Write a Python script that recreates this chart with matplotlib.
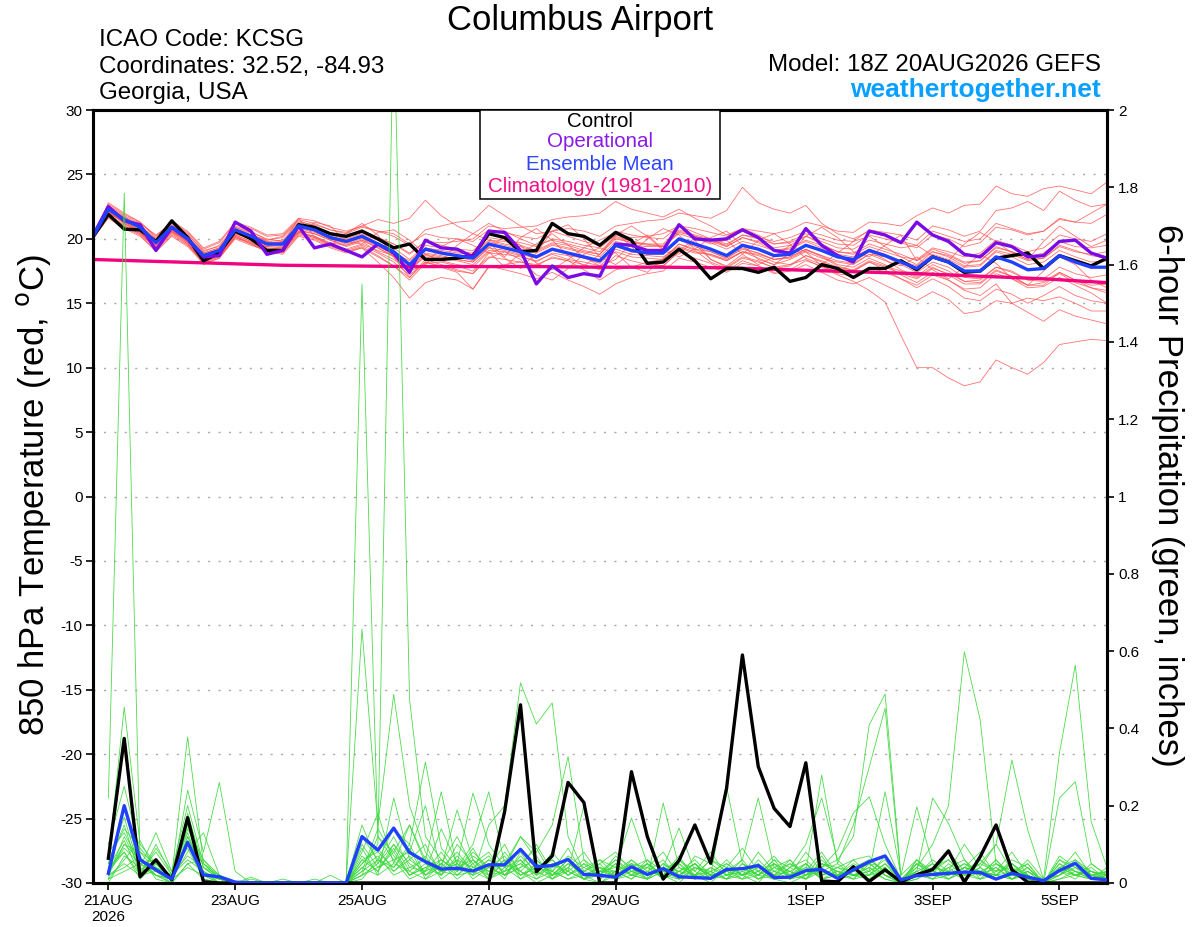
import numpy as np
import pandas as pd
import matplotlib
matplotlib.use('Agg')
import matplotlib.pyplot as plt
from matplotlib.patches import Rectangle

plt.rcParams['font.family'] = ['Liberation Sans', 'DejaVu Sans']
plt.rcParams['axes.unicode_minus'] = False

# ---------------- time axis ----------------
t_times = pd.date_range('2026-08-20 18:00', periods=65, freq='6h')   # temperature (0..384 h)
p_times = t_times[1:]                                                # 6-h precipitation (6..384 h)
clim_times = t_times[::4]

tick_dates = pd.to_datetime(['2026-08-21', '2026-08-23', '2026-08-25', '2026-08-27',
                             '2026-08-29', '2026-09-01', '2026-09-03', '2026-09-05'])
tick_labels = ['21AUG\n2026', '23AUG', '25AUG', '27AUG', '29AUG', '1SEP', '3SEP', '5SEP']

# ---------------- 850 hPa temperature (C) ----------------
control_t = [20.1, 21.9, 20.75, 20.7, 19.8, 21.4, 20.1, 18.3, 18.9, 20.6, 20.0, 19.1, 19.1,
             21.1, 20.9, 20.4, 20.2, 20.6, 20.0, 19.3, 19.6, 18.4, 18.4, 18.5, 18.7, 20.4,
             20.1, 19.0, 19.1, 21.2, 20.4, 20.2, 19.5, 20.5, 19.9, 18.1, 18.2, 19.2, 18.3,
             16.9, 17.7, 17.7, 17.4, 17.8, 16.7, 17.0, 18.0, 17.7, 17.0, 17.7, 17.7, 18.3,
             17.6, 18.6, 18.2, 17.4, 17.5, 18.5, 18.7, 18.9, 17.7, 18.7, 18.3, 17.9, 18.5]
oper_t = [20.2, 22.5, 21.4, 21.1, 19.1, 20.9, 20.0, 18.6, 18.7, 21.3, 20.6, 18.8, 19.1,
          21.0, 19.3, 19.6, 19.1, 18.6, 19.6, 18.9, 17.4, 19.9, 19.3, 19.2, 18.6, 20.6,
          20.5, 19.1, 16.5, 17.9, 17.0, 17.3, 17.1, 19.6, 19.5, 19.1, 19.1, 21.1, 20.0,
          19.9, 20.0, 20.7, 20.1, 19.1, 18.9, 20.8, 19.5, 18.7, 18.2, 20.6, 20.3, 19.7,
          21.3, 20.3, 19.8, 18.8, 18.6, 19.7, 19.4, 18.6, 18.7, 19.8, 19.9, 18.9, 18.5]
mean_t = [20.1, 22.3, 21.5, 20.9, 19.7, 20.9, 20.0, 18.7, 19.1, 20.7, 20.2, 19.6, 19.6,
          21.0, 20.7, 20.1, 19.8, 20.2, 19.6, 19.0, 18.0, 19.2, 18.9, 18.7, 18.5, 19.6,
          19.3, 19.0, 18.6, 19.2, 18.9, 18.6, 18.3, 19.5, 19.1, 18.9, 18.9, 20.0, 19.6,
          19.2, 18.7, 19.5, 19.2, 18.7, 18.8, 19.5, 19.1, 18.6, 18.4, 19.1, 18.7, 18.2,
          17.7, 18.6, 18.2, 17.5, 17.5, 18.6, 18.2, 17.6, 17.7, 18.7, 18.2, 17.8, 17.8]
clim_t = [18.4, 18.25, 18.1, 17.95, 17.9, 17.85, 17.85, 17.85, 17.8, 17.8, 17.75, 17.6,
          17.45, 17.3, 17.1, 16.9, 16.6]

temp_members = [
    [20.2, 22.6, 21.8, 21.2, 20.3, 21.2, 20.4, 19.0, 19.5, 21.0, 20.6, 19.9, 20.2,
     21.4, 21.0, 20.4, 20.2, 20.7, 20.1, 19.6, 18.9, 19.8, 19.5, 19.2, 19.1, 20.1,
     19.9, 19.7, 19.4, 20.0, 19.8, 19.5, 19.3, 20.3, 20.1, 20.2, 20.4, 21.0, 20.8,
     20.5, 20.2, 20.8, 20.6, 20.4, 20.7, 21.3, 21.0, 20.6, 20.5, 21.3, 21.2, 21.0,
     21.8, 22.4, 22.0, 22.6, 22.7, 24.1, 23.5, 23.3, 23.9, 24.1, 23.8, 23.5, 24.4],
    [20.0, 22.0, 21.3, 20.6, 19.5, 20.6, 19.8, 18.6, 19.0, 20.5, 20.3, 19.9, 20.1,
     21.3, 21.1, 20.7, 20.5, 21.0, 20.6, 20.4, 19.6, 20.4, 20.1, 20.0, 19.8, 20.7,
     20.5, 20.2, 20.0, 20.6, 20.8, 20.6, 20.2, 21.0, 21.2, 21.4, 21.5, 22.0, 21.8,
     21.6, 22.2, 24.0, 22.8, 22.3, 22.0, 22.6, 21.2, 20.4, 20.0, 20.6, 20.3, 19.8,
     19.5, 20.6, 20.2, 19.8, 20.0, 21.2, 20.8, 20.4, 20.6, 21.5, 21.3, 22.0, 22.7],
    [20.3, 22.4, 21.6, 21.0, 19.9, 20.7, 19.8, 18.5, 18.8, 20.4, 20.0, 19.3, 19.2,
     20.6, 20.4, 19.9, 19.4, 19.8, 19.0, 18.4, 17.6, 18.7, 18.5, 18.3, 18.0, 19.1,
     19.0, 18.7, 18.2, 18.9, 18.7, 18.5, 18.1, 19.2, 18.8, 18.7, 18.6, 19.4, 19.0,
     18.8, 18.4, 19.0, 18.7, 18.2, 18.0, 18.4, 17.8, 17.2, 16.7, 16.0, 15.1, 12.5,
     10.0, 10.0, 9.2, 8.6, 8.9, 10.6, 10.0, 9.5, 10.4, 11.8, 12.0, 12.2, 12.1],
    [19.9, 21.8, 21.0, 20.4, 19.2, 20.4, 19.6, 18.2, 18.6, 20.1, 19.7, 19.0, 18.9,
     20.3, 20.0, 19.4, 19.0, 19.4, 18.7, 17.9, 16.8, 18.1, 18.2, 17.9, 17.5, 18.6,
     18.4, 18.2, 17.9, 18.6, 18.3, 18.0, 17.6, 18.7, 18.3, 18.0, 17.9, 19.0, 18.5,
     18.1, 17.5, 18.3, 17.9, 17.3, 17.5, 18.0, 17.4, 16.8, 16.5, 17.0, 16.4, 15.8,
     15.2, 15.9, 15.3, 14.2, 14.4, 15.2, 15.0, 14.3, 13.6, 14.5, 14.0, 13.7, 13.4],
    [20.0, 22.1, 21.2, 20.5, 19.3, 20.5, 19.9, 18.4, 18.9, 20.3, 19.8, 19.4, 19.3,
     20.5, 20.2, 19.7, 19.5, 19.9, 19.3, 18.6, 17.0, 18.4, 18.0, 17.6, 17.3, 18.9,
     18.8, 18.6, 18.3, 18.8, 18.4, 18.2, 17.9, 19.0, 18.6, 18.5, 18.4, 19.6, 19.2,
     18.7, 18.3, 19.0, 18.8, 18.4, 18.6, 19.2, 18.7, 18.0, 17.8, 18.5, 18.0, 17.2,
     16.6, 17.4, 16.8, 16.0, 15.6, 16.5, 15.0, 15.4, 15.2, 15.5, 15.0, 14.4, 14.4],
    [20.2, 22.5, 21.4, 20.6, 19.4, 20.8, 19.7, 18.0, 18.5, 20.2, 19.6, 19.0, 19.0,
     20.6, 20.1, 19.5, 19.0, 19.3, 18.2, 17.0, 15.4, 16.6, 17.0, 16.8, 16.1, 17.8,
     18.0, 18.2, 18.0, 18.5, 18.3, 17.6, 16.8, 17.6, 17.8, 18.2, 18.4, 19.3, 18.9,
     18.8, 18.3, 19.0, 18.5, 18.0, 18.4, 19.0, 18.5, 18.2, 18.0, 18.8, 18.6, 18.0,
     17.4, 18.2, 17.8, 17.0, 16.9, 17.8, 17.5, 16.8, 16.7, 17.4, 16.8, 16.4, 16.5],
    [20.1, 22.8, 22.0, 21.3, 20.1, 21.4, 20.6, 19.3, 19.8, 21.3, 20.9, 20.3, 20.4,
     21.6, 21.4, 20.9, 20.6, 21.0, 21.5, 21.2, 21.6, 23.0, 21.8, 21.0, 20.4, 21.2,
     20.6, 20.0, 19.5, 19.9, 19.6, 19.3, 19.0, 20.2, 19.8, 19.6, 19.4, 20.4, 20.0,
     19.7, 19.2, 19.8, 19.5, 19.1, 19.3, 19.9, 19.5, 19.0, 18.9, 19.6, 19.2, 18.8,
     18.3, 19.0, 18.7, 18.1, 18.3, 19.4, 19.0, 18.6, 18.9, 19.8, 19.4, 19.3, 19.5],
    [20.0, 21.7, 20.9, 20.3, 19.0, 20.2, 19.4, 18.1, 18.5, 20.0, 19.5, 19.1, 19.0,
     20.4, 20.1, 19.6, 19.2, 19.6, 19.1, 18.7, 17.6, 18.6, 18.3, 18.0, 17.8, 19.0,
     17.8, 18.9, 19.6, 20.4, 19.5, 18.6, 17.9, 18.4, 19.6, 20.3, 19.2, 18.8, 19.9,
     18.4, 17.8, 18.6, 18.3, 17.7, 17.9, 18.7, 18.3, 17.8, 17.6, 18.3, 17.9, 17.5,
     17.0, 17.8, 17.2, 16.5, 16.5, 17.5, 17.1, 16.4, 16.6, 17.3, 16.6, 16.2, 16.0],
    [20.2, 22.2, 21.6, 21.0, 19.8, 21.0, 20.2, 18.9, 19.3, 20.9, 20.4, 19.8, 19.9,
     21.2, 20.9, 20.3, 20.0, 20.4, 19.9, 19.3, 18.4, 19.5, 19.3, 19.0, 18.9, 19.9,
     19.6, 19.4, 19.0, 19.6, 19.3, 19.0, 18.8, 20.0, 19.7, 19.6, 19.6, 20.7, 20.3,
     20.0, 19.6, 20.3, 20.1, 19.8, 20.1, 20.6, 20.3, 19.9, 19.8, 20.7, 20.5, 20.3,
     19.9, 21.0, 20.7, 20.2, 20.6, 22.2, 22.4, 22.9, 22.2, 23.7, 23.0, 22.5, 22.7],
    [20.0, 21.9, 21.1, 20.5, 19.4, 20.6, 19.7, 18.3, 18.7, 20.3, 19.8, 19.2, 19.1,
     20.5, 20.2, 19.6, 19.1, 19.5, 18.9, 18.2, 17.2, 18.2, 17.8, 17.4, 16.1, 17.9,
     17.6, 17.3, 16.9, 17.4, 16.8, 16.3, 15.7, 16.5, 17.0, 17.3, 17.5, 18.5, 18.2,
     17.8, 17.4, 18.1, 17.9, 17.4, 17.6, 18.3, 17.9, 17.3, 17.1, 17.8, 17.4, 16.9,
     16.4, 17.2, 16.8, 16.1, 16.2, 17.3, 16.9, 16.2, 16.3, 17.0, 16.4, 15.8, 15.0],
    [20.1, 22.4, 21.7, 21.1, 20.0, 21.1, 20.3, 19.1, 19.4, 20.9, 20.5, 20.0, 19.8,
     20.4, 21.3, 21.0, 19.8, 19.6, 20.5, 20.7, 19.9, 18.8, 18.3, 19.5, 20.4, 19.9,
     19.8, 19.5, 19.1, 19.7, 19.5, 19.1, 18.8, 20.1, 19.7, 19.5, 19.5, 20.6, 20.2,
     19.8, 19.4, 20.1, 19.8, 19.3, 19.5, 20.2, 19.8, 19.3, 19.2, 19.9, 19.6, 19.3,
     19.5, 18.7, 18.3, 19.6, 20.5, 19.8, 18.9, 18.4, 19.8, 21.0, 20.2, 19.4, 19.9],
    [20.3, 22.0, 21.3, 20.7, 19.6, 20.6, 19.9, 18.6, 19.0, 20.4, 20.0, 19.5, 19.4,
     20.8, 20.5, 20.0, 19.6, 20.0, 19.4, 18.8, 17.8, 18.9, 18.7, 18.4, 18.2, 19.3,
     20.2, 19.5, 18.1, 17.6, 18.4, 19.3, 19.9, 20.5, 19.4, 18.2, 17.9, 19.0, 20.1,
     19.6, 19.9, 18.8, 18.0, 18.6, 19.5, 19.0, 17.9, 17.4, 18.2, 19.0, 18.4, 17.6,
     17.1, 18.0, 17.5, 16.7, 16.6, 17.6, 17.1, 16.4, 16.4, 17.4, 16.8, 16.2, 15.8],
    [20.2, 22.7, 21.9, 21.3, 20.2, 21.3, 20.5, 19.2, 19.7, 21.2, 20.8, 20.2, 20.3,
     21.5, 21.2, 20.7, 20.4, 20.9, 20.6, 20.2, 19.5, 20.7, 21.0, 21.3, 21.4, 22.6,
     21.8, 21.0, 20.4, 20.6, 20.2, 19.8, 19.5, 20.6, 20.3, 20.1, 20.0, 21.0, 20.5,
     20.0, 19.4, 20.1, 19.7, 19.1, 19.2, 19.8, 19.3, 18.8, 18.6, 19.2, 18.8, 18.3,
     17.9, 18.8, 18.4, 17.8, 17.9, 19.0, 18.6, 18.0, 18.2, 19.1, 18.6, 18.2, 18.3],
    [19.9, 22.1, 21.4, 20.8, 19.6, 20.8, 19.9, 18.6, 19.1, 20.6, 20.1, 19.7, 19.8,
     21.1, 20.8, 20.4, 20.1, 20.5, 20.1, 19.6, 18.8, 19.8, 19.7, 19.8, 20.0, 21.0,
     20.8, 20.9, 21.0, 21.5, 21.7, 21.8, 22.0, 22.9, 22.3, 22.0, 21.7, 22.3, 21.6,
     21.0, 20.3, 20.8, 20.3, 19.6, 19.7, 20.2, 19.6, 19.0, 18.8, 19.4, 19.0, 18.6,
     18.0, 19.0, 18.6, 17.9, 18.0, 19.1, 18.8, 18.3, 18.5, 19.4, 19.0, 18.8, 19.0],
    [20.0, 22.2, 21.2, 20.6, 19.5, 20.7, 19.8, 18.5, 18.9, 20.5, 20.0, 19.4, 19.5,
     20.9, 20.6, 20.0, 19.7, 20.1, 19.5, 18.9, 17.9, 19.1, 18.9, 18.7, 18.6, 19.7,
     18.6, 20.1, 20.8, 19.9, 18.7, 17.9, 18.8, 20.3, 21.0, 20.2, 19.1, 18.6, 19.2,
     20.1, 20.6, 19.5, 18.4, 18.0, 18.9, 20.2, 20.9, 20.1, 19.0, 18.6, 19.5, 20.3,
     18.3, 19.2, 18.8, 18.2, 18.3, 19.3, 19.0, 18.4, 18.5, 19.5, 19.1, 18.7, 18.5],
    [20.1, 21.8, 21.0, 20.4, 19.3, 20.5, 19.6, 18.3, 18.7, 20.2, 19.7, 19.2, 19.3,
     20.7, 20.4, 19.9, 19.5, 19.9, 19.3, 18.7, 17.7, 18.8, 18.6, 18.4, 18.2, 19.3,
     19.1, 18.8, 18.5, 19.1, 18.8, 18.5, 18.2, 19.4, 19.0, 18.8, 18.8, 19.9, 19.4,
     19.0, 18.5, 19.3, 18.9, 18.4, 18.6, 19.2, 18.6, 17.9, 17.5, 18.2, 17.6, 16.9,
     16.2, 16.9, 16.3, 15.4, 15.2, 16.1, 15.7, 15.0, 15.6, 16.3, 15.6, 15.2, 15.0],
    [20.3, 22.3, 21.5, 20.8, 19.7, 20.9, 20.1, 18.8, 19.2, 20.8, 20.3, 19.7, 19.7,
     21.0, 20.7, 20.2, 19.9, 20.3, 19.7, 19.1, 18.1, 19.3, 19.1, 18.9, 18.8, 19.8,
     19.5, 19.2, 18.9, 19.5, 19.2, 18.9, 18.6, 19.8, 19.5, 19.4, 19.4, 20.5, 20.2,
     19.9, 19.5, 20.3, 20.0, 19.6, 19.8, 20.4, 20.0, 19.6, 19.5, 20.3, 20.0, 19.7,
     19.3, 20.3, 20.0, 19.4, 19.7, 20.9, 20.7, 20.3, 20.6, 21.6, 21.3, 21.2, 21.9],
    [20.0, 21.6, 20.8, 20.2, 19.1, 20.3, 19.5, 18.2, 18.6, 20.1, 19.6, 19.0, 18.8,
     20.2, 19.9, 19.3, 18.9, 19.3, 18.6, 17.9, 17.0, 18.2, 17.9, 17.5, 17.3, 18.5,
     19.0, 18.4, 17.2, 16.8, 17.7, 18.8, 19.3, 18.9, 17.8, 17.4, 18.5, 19.6, 19.1,
     18.2, 17.7, 18.5, 18.2, 17.8, 18.0, 18.7, 18.2, 17.7, 17.5, 18.2, 17.8, 17.3,
     16.9, 17.7, 17.3, 16.7, 16.8, 17.8, 17.4, 16.8, 16.9, 17.8, 17.3, 17.0, 17.2],
    [20.2, 22.5, 21.7, 21.0, 19.9, 21.0, 20.1, 18.9, 19.3, 20.8, 20.3, 19.8, 19.6,
     21.6, 20.2, 19.5, 20.4, 21.2, 20.3, 18.6, 17.5, 18.0, 19.4, 20.0, 19.5, 18.9,
     19.3, 19.0, 18.6, 19.2, 18.9, 18.6, 18.3, 19.5, 19.1, 18.9, 18.9, 20.0, 19.6,
     18.4, 17.9, 18.8, 19.9, 20.4, 19.6, 18.5, 18.0, 18.9, 19.8, 20.2, 19.4, 18.6,
     18.4, 19.3, 19.0, 18.6, 18.9, 19.9, 19.5, 19.0, 19.3, 20.3, 20.0, 19.8, 20.4],
    [20.1, 22.0, 21.4, 20.9, 19.8, 20.8, 20.0, 18.8, 19.2, 20.6, 20.1, 19.6, 19.7,
     21.0, 20.6, 20.0, 19.8, 20.1, 19.5, 18.9, 18.3, 19.3, 19.0, 18.6, 18.3, 19.4,
     18.5, 17.7, 18.9, 20.6, 21.1, 20.0, 18.6, 18.0, 18.9, 20.0, 20.8, 20.3, 19.2,
     19.0, 18.5, 19.2, 18.9, 18.4, 18.5, 19.1, 18.7, 18.3, 18.1, 18.8, 18.3, 17.9,
     18.6, 17.6, 16.9, 17.8, 18.8, 18.1, 16.9, 16.4, 17.5, 18.6, 18.0, 16.8, 16.2],
]

# ---------------- 6-hour precipitation (inches) ----------------
control_p = [0.064, 0.374, 0.016, 0.060, 0.008, 0.169, 0.003, 0, 0, 0, 0, 0, 0, 0, 0, 0,
             0, 0, 0, 0, 0, 0, 0, 0, 0, 0.185, 0.461, 0.029, 0.070, 0.260, 0.208, 0,
             0, 0.288, 0.120, 0.010, 0.058, 0.150, 0.051, 0.245, 0.590, 0.301, 0.193, 0.146, 0.311, 0.005, 0.003, 0.042,
             0.004, 0.034, 0.003, 0.021, 0.035, 0.083, 0.002, 0.068, 0.150, 0.034, 0.002, 0, 0, 0, 0, 0]
mean_p = [0.025, 0.200, 0.060, 0.034, 0.010, 0.105, 0.021, 0.016, 0.002, 0, 0, 0, 0, 0, 0, 0,
          0.120, 0.085, 0.142, 0.079, 0.055, 0.036, 0.038, 0.031, 0.047, 0.047, 0.087, 0.042, 0.045, 0.061, 0.022, 0.020,
          0.015, 0.042, 0.022, 0.037, 0.016, 0.014, 0.012, 0.035, 0.037, 0.045, 0.014, 0.015, 0.032, 0.035, 0.012, 0.034,
          0.055, 0.070, 0.008, 0.019, 0.022, 0.025, 0.028, 0.027, 0.010, 0.025, 0.015, 0.006, 0.032, 0.051, 0.012, 0.008]

precip_members = [
    [0.22, 1.785, 0.06, 0.02, 0, 0.05, 0.01, 0, 0, 0, 0, 0, 0, 0, 0, 0,
     0.02, 0.05, 0.10, 0.03, 0.01, 0.05, 0.12, 0.04, 0.02, 0.08, 0.03, 0, 0.02, 0.06, 0.01, 0,
     0.03, 0.01, 0.05, 0.02, 0, 0.04, 0.02, 0.06, 0.02, 0, 0.05, 0.01, 0.03, 0.08, 0.02, 0.01,
     0.06, 0.03, 0, 0.02, 0.05, 0.01, 0.03, 0.06, 0.02, 0.01, 0.04, 0, 0.03, 0.08, 0.02, 0.01],
    [0.06, 0.455, 0.10, 0.05, 0.01, 0.12, 0.03, 0.01, 0, 0.015, 0, 0, 0, 0, 0, 0,
     1.55, 0.12, 0.08, 0.15, 0.05, 0.02, 0.10, 0.05, 0.01, 0.04, 0.12, 0.06, 0.02, 0.03, 0.01, 0.05,
     0.01, 0.02, 0.06, 0.01, 0.03, 0.02, 0, 0.04, 0.09, 0.03, 0.01, 0, 0.02, 0.05, 0.03, 0.02,
     0.01, 0.04, 0, 0.06, 0.02, 0.03, 0.10, 0.04, 0.01, 0.02, 0.05, 0, 0.06, 0.03, 0.01, 0.02],
    [0.02, 0.12, 0.04, 0.13, 0.03, 0.20, 0.05, 0.02, 0, 0, 0, 0, 0, 0.01, 0, 0,
     0.05, 0.10, 2.26, 0.475, 0.12, 0.06, 0.03, 0.08, 0.04, 0.02, 0.07, 0.03, 0.01, 0.05, 0.02, 0,
     0.02, 0.05, 0.01, 0.03, 0.06, 0.02, 0.01, 0.03, 0.02, 0.05, 0.01, 0.02, 0.04, 0.01, 0.02, 0.05,
     0.03, 0.01, 0, 0.02, 0.03, 0.06, 0.02, 0.01, 0.03, 0.05, 0.02, 0, 0.04, 0.02, 0.03, 0.01],
    [0.10, 0.25, 0.08, 0.03, 0.02, 0.378, 0.05, 0.01, 0, 0, 0, 0.01, 0, 0, 0, 0,
     0.657, 0.15, 0.488, 0.20, 0.08, 0.03, 0.05, 0.233, 0.10, 0.04, 0.06, 0.02, 0.08, 0.03, 0.01, 0.02,
     0.05, 0.02, 0.01, 0.207, 0.04, 0.02, 0.03, 0.01, 0.05, 0.02, 0.01, 0.04, 0.02, 0.03, 0.01, 0.02,
     0.02, 0.05, 0.01, 0.03, 0.01, 0.02, 0.04, 0.02, 0.06, 0.01, 0.03, 0.01, 0.02, 0.05, 0.02, 0.03],
    [0.05, 0.15, 0.02, 0.06, 0.01, 0.24, 0.08, 0.26, 0.03, 0, 0, 0, 0, 0, 0, 0,
     0.03, 0.06, 0.14, 0.10, 0.313, 0.09, 0.04, 0.02, 0.15, 0.20, 0.518, 0.411, 0.466, 0.12, 0.03, 0.02,
     0.02, 0.04, 0.01, 0.03, 0.02, 0.05, 0.01, 0.02, 0.04, 0.01, 0.02, 0.03, 0.05, 0.01, 0.02, 0.03,
     0.05, 0.02, 0, 0.01, 0.03, 0.02, 0.05, 0.03, 0.02, 0.01, 0.02, 0, 0.01, 0.03, 0.02, 0.01],
    [0.03, 0.10, 0.06, 0.02, 0, 0.15, 0.02, 0.01, 0, 0, 0, 0, 0, 0, 0, 0,
     0.08, 0.18, 0.05, 0.15, 0.06, 0.236, 0.04, 0.10, 0.236, 0.05, 0.12, 0.08, 0.15, 0.327, 0.06, 0.03,
     0.04, 0.168, 0.05, 0.02, 0.06, 0.03, 0.08, 0.02, 0.01, 0.06, 0.02, 0.01, 0.03, 0.279, 0.05, 0.02,
     0.04, 0.02, 0, 0.05, 0.02, 0.03, 0.01, 0.04, 0.10, 0.03, 0.02, 0, 0.05, 0.02, 0.01, 0.04],
    [0.01, 0.20, 0.03, 0.08, 0.02, 0.10, 0.01, 0, 0, 0, 0, 0, 0, 0, 0, 0,
     0.04, 0.02, 0.22, 0.06, 0.03, 0.14, 0.05, 0.02, 0.06, 0.03, 0.09, 0.04, 0.02, 0.06, 0.01, 0.04,
     0.01, 0.03, 0.05, 0.02, 0.01, 0.04, 0.02, 0.249, 0.05, 0.02, 0.06, 0.04, 0.10, 0.22, 0.06, 0.12,
     0.409, 0.489, 0.02, 0.06, 0.03, 0.01, 0.04, 0.03, 0.02, 0.05, 0.02, 0, 0.03, 0.02, 0.01, 0.02],
    [0.04, 0.08, 0.01, 0.05, 0.01, 0.18, 0.04, 0.02, 0, 0, 0, 0, 0, 0, 0.02, 0,
     0.10, 0.04, 0.08, 0.02, 0.05, 0.03, 0.06, 0.01, 0.04, 0.10, 0.02, 0.05, 0.01, 0.03, 0.20, 0.02,
     0.06, 0.02, 0.01, 0.05, 0.03, 0.01, 0.02, 0.03, 0.06, 0.22, 0.04, 0.02, 0.08, 0.03, 0.05, 0.15,
     0.30, 0.452, 0.01, 0.04, 0.10, 0.20, 0.598, 0.422, 0.05, 0.03, 0.02, 0, 0.04, 0.03, 0.02, 0.01],
    [0.02, 0.05, 0.02, 0.03, 0, 0.12, 0.03, 0, 0, 0, 0, 0, 0, 0, 0, 0,
     0.06, 0.08, 0.04, 0.10, 0.02, 0.04, 0.189, 0.06, 0.03, 0.05, 0.02, 0.04, 0.06, 0.02, 0.05, 0.01,
     0.03, 0.05, 0.02, 0.04, 0.142, 0.03, 0.01, 0.05, 0.02, 0.04, 0.02, 0.05, 0.03, 0.02, 0.04, 0.02,
     0.03, 0.236, 0.02, 0.197, 0.05, 0.02, 0.03, 0.05, 0.10, 0.318, 0.137, 0.01, 0.336, 0.564, 0.159, 0.04],
    [0.06, 0.14, 0.09, 0.04, 0.02, 0.13, 0.02, 0.01, 0, 0, 0, 0, 0, 0, 0, 0,
     0.02, 0.12, 0.06, 0.08, 0.20, 0.03, 0.02, 0.05, 0.08, 0.02, 0.04, 0.10, 0.03, 0.01, 0.03, 0.05,
     0.08, 0.03, 0.04, 0.01, 0.05, 0.02, 0.06, 0.03, 0.01, 0.02, 0.05, 0.03, 0.01, 0.06, 0.02, 0.03,
     0.02, 0.05, 0, 0.03, 0.22, 0.154, 0.06, 0.02, 0.04, 0.01, 0.03, 0, 0.22, 0.262, 0.05, 0.02],
    [0, 0.07, 0.04, 0.02, 0.01, 0.08, 0.13, 0.02, 0.005, 0, 0, 0, 0, 0, 0, 0,
     0.15, 0.05, 0.12, 0.04, 0.03, 0.08, 0.02, 0.06, 0.01, 0.03, 0.05, 0.02, 0.04, 0.06, 0.02, 0.03,
     0.02, 0.04, 0.06, 0.03, 0.02, 0.05, 0.01, 0.03, 0.04, 0.02, 0.06, 0.01, 0.02, 0.04, 0.085, 0.181,
     0.223, 0.10, 0.01, 0.02, 0.04, 0.06, 0.02, 0.05, 0.03, 0.08, 0.02, 0, 0.06, 0.04, 0.02, 0.03],
    [0.03, 0.09, 0.05, 0.06, 0.01, 0.11, 0.02, 0, 0, 0, 0, 0, 0, 0, 0, 0,
     0.05, 0.09, 0.03, 0.06, 0.10, 0.02, 0.07, 0.03, 0.05, 0.01, 0.08, 0.02, 0.05, 0.03, 0.06, 0.01,
     0.05, 0.02, 0.03, 0.06, 0.01, 0.02, 0.04, 0.01, 0.03, 0.05, 0.02, 0.06, 0.01, 0.03, 0.02, 0.04,
     0.06, 0.03, 0.01, 0.05, 0.02, 0.04, 0.01, 0.03, 0.05, 0.02, 0.06, 0.01, 0.02, 0.05, 0.03, 0.01],
    [0.01, 0.06, 0.11, 0.03, 0.02, 0.07, 0.04, 0.01, 0, 0, 0, 0, 0, 0, 0, 0,
     0.03, 0.14, 0.07, 0.02, 0.04, 0.06, 0.03, 0.09, 0.02, 0.05, 0.03, 0.07, 0.01, 0.04, 0.08, 0.02,
     0.01, 0.06, 0.03, 0.02, 0.07, 0.01, 0.03, 0.05, 0.02, 0.08, 0.03, 0.01, 0.05, 0.02, 0.04, 0.06,
     0.02, 0.07, 0, 0.03, 0.05, 0.02, 0.04, 0.08, 0.02, 0.03, 0.01, 0, 0.04, 0.06, 0.02, 0.01],
    [0.04, 0.11, 0.02, 0.09, 0.03, 0.09, 0.01, 0, 0, 0, 0, 0, 0, 0, 0, 0,
     0.07, 0.03, 0.10, 0.05, 0.02, 0.05, 0.01, 0.04, 0.07, 0.02, 0.06, 0.01, 0.03, 0.09, 0.02, 0.04,
     0.03, 0.01, 0.04, 0.08, 0.02, 0.05, 0.01, 0.04, 0.02, 0.03, 0.07, 0.02, 0.01, 0.04, 0.06, 0.02,
     0.04, 0.01, 0, 0.06, 0.02, 0.08, 0.03, 0.01, 0.02, 0.06, 0.04, 0, 0.03, 0.01, 0.05, 0.02],
    [0.02, 0.04, 0.07, 0.01, 0, 0.05, 0.06, 0.01, 0, 0, 0, 0, 0, 0, 0, 0,
     0.01, 0.06, 0.04, 0.09, 0.01, 0.03, 0.05, 0.02, 0.04, 0.07, 0.01, 0.03, 0.06, 0.02, 0.04, 0.06,
     0.04, 0.02, 0.05, 0.01, 0.03, 0.06, 0.02, 0.01, 0.05, 0.03, 0.01, 0.04, 0.06, 0.02, 0.03, 0.01,
     0.05, 0.02, 0, 0.01, 0.04, 0.03, 0.05, 0.02, 0.06, 0.02, 0.01, 0, 0.05, 0.03, 0.01, 0.03],
    [0.05, 0.17, 0.03, 0.04, 0.02, 0.06, 0.03, 0, 0, 0, 0, 0, 0, 0, 0, 0,
     0.09, 0.02, 0.05, 0.03, 0.07, 0.01, 0.04, 0.06, 0.02, 0.03, 0.05, 0.09, 0.02, 0.04, 0.01, 0.03,
     0.06, 0.03, 0.02, 0.04, 0.05, 0.01, 0.04, 0.02, 0.06, 0.01, 0.03, 0.05, 0.02, 0.07, 0.01, 0.04,
     0.01, 0.04, 0, 0.02, 0.01, 0.05, 0.02, 0.04, 0.01, 0.03, 0.05, 0, 0.02, 0.04, 0.01, 0.02],
    [0.01, 0.03, 0.05, 0.02, 0.01, 0.04, 0.02, 0, 0, 0.01, 0, 0, 0, 0, 0, 0,
     0.02, 0.04, 0.06, 0.01, 0.03, 0.05, 0.02, 0.03, 0.01, 0.06, 0.02, 0.04, 0.03, 0.01, 0.02, 0.04,
     0.02, 0.03, 0.01, 0.05, 0.02, 0.04, 0.03, 0.01, 0.02, 0.04, 0.03, 0.02, 0.05, 0.01, 0.03, 0.02,
     0.03, 0.06, 0, 0.04, 0.02, 0.01, 0.03, 0.02, 0.04, 0.01, 0.03, 0, 0.01, 0.02, 0.04, 0.01],
    [0.08, 0.13, 0.05, 0.03, 0.01, 0.16, 0.04, 0.01, 0, 0, 0, 0, 0, 0, 0, 0,
     0.04, 0.07, 0.02, 0.04, 0.06, 0.04, 0.08, 0.03, 0.06, 0.04, 0.01, 0.05, 0.03, 0.07, 0.04, 0.02,
     0.07, 0.04, 0.02, 0.03, 0.01, 0.07, 0.05, 0.02, 0.03, 0.01, 0.04, 0.06, 0.02, 0.05, 0.03, 0.01,
     0.02, 0.03, 0.01, 0.02, 0.06, 0.03, 0.01, 0.06, 0.03, 0.04, 0.02, 0, 0.07, 0.04, 0.02, 0.01],
    [0.02, 0.10, 0.08, 0.05, 0.01, 0.14, 0.06, 0.02, 0, 0, 0, 0, 0, 0, 0, 0,
     0.12, 0.06, 0.03, 0.07, 0.02, 0.06, 0.03, 0.07, 0.04, 0.02, 0.04, 0.06, 0.02, 0.05, 0.03, 0.06,
     0.02, 0.05, 0.04, 0.02, 0.04, 0.02, 0.06, 0.04, 0.01, 0.03, 0.05, 0.02, 0.04, 0.03, 0.02, 0.06,
     0.07, 0.02, 0.01, 0.03, 0.01, 0.04, 0.06, 0.01, 0.05, 0.02, 0.04, 0, 0.02, 0.06, 0.03, 0.02],
    [0.03, 0.08, 0.02, 0.10, 0.02, 0.10, 0.05, 0.01, 0, 0, 0, 0, 0, 0, 0, 0,
     0.06, 0.03, 0.09, 0.02, 0.04, 0.02, 0.06, 0.04, 0.03, 0.06, 0.03, 0.01, 0.05, 0.02, 0.05, 0.03,
     0.03, 0.06, 0.02, 0.04, 0.03, 0.05, 0.02, 0.03, 0.04, 0.02, 0.04, 0.03, 0.01, 0.05, 0.04, 0.03,
     0.05, 0.04, 0, 0.05, 0.03, 0.02, 0.04, 0.03, 0.02, 0.05, 0.01, 0, 0.04, 0.02, 0.03, 0.02],
]

# ---------------- figure ----------------
fig = plt.figure(figsize=(12, 9.27), dpi=100)
ax = fig.add_axes([0.0771, 0.0475, 0.8454, 0.8338])
ax2 = ax.twinx()

RED = '#ff5050'
GREEN = '#3ad83a'

for m in temp_members:
    ax.plot(t_times, m, color=RED, lw=0.6, alpha=0.8, zorder=2)
ax.plot(clim_times, clim_t, color='#f0047f', lw=2.4, zorder=3)
ax.plot(t_times, control_t, color='black', lw=2.4, zorder=4)
ax.plot(t_times, oper_t, color='#7a0ae6', lw=2.4, zorder=5)
ax.plot(t_times, mean_t, color='#2040ff', lw=2.4, zorder=6)

for m in precip_members:
    ax2.plot(p_times, m, color=GREEN, lw=0.6, alpha=0.9, zorder=2)
ax2.plot(p_times, control_p, color='black', lw=2.4, zorder=4)
ax2.plot(p_times, mean_p, color='#2040ff', lw=2.4, zorder=5)

ax.set_xlim(t_times[0], t_times[-1])
ax.set_ylim(-30, 30)
ax.set_yticks(np.arange(-30, 31, 5))
ax.set_yticklabels([str(v) for v in range(-30, 31, 5)])
ax2.set_ylim(0, 2)
p_ticks = np.round(np.arange(0, 2.01, 0.2), 1)
ax2.set_yticks(p_ticks)
ax2.set_yticklabels(['0', '0.2', '0.4', '0.6', '0.8', '1', '1.2', '1.4', '1.6', '1.8', '2'])
ax.set_xticks(tick_dates)
ax.set_xticklabels(tick_labels)

ax.grid(axis='y', color='#a8a8a8', linestyle=(0, (1.5, 6)), linewidth=1.0)
ax.tick_params(axis='y', direction='out', length=5, width=1.2, labelsize=11, pad=2)
ax2.tick_params(axis='y', direction='out', length=5, width=1.2, labelsize=11, pad=3)
ax.tick_params(axis='x', direction='out', length=5, width=1.2, labelsize=11, pad=3)
for a in (ax, ax2):
    for s in a.spines.values():
        s.set_linewidth(2.2)

# legend box
ax2.add_patch(Rectangle((0.382, 0.885), 0.2365, 0.115, transform=ax2.transAxes,
                        facecolor='white', edgecolor='black', lw=1.1, zorder=20, clip_on=False))
leg_items = [('Control', 'black', 0.9783), ('Operational', '#8a1ae8', 0.952),
             ('Ensemble Mean', '#2f44ff', 0.9224), ('Climatology (1981-2010)', '#ee1188', 0.8943)]
for txt, col, yy in leg_items:
    ax2.text(0.5, yy, txt, transform=ax2.transAxes, ha='center', va='baseline',
             fontsize=14.8, color=col, zorder=21)

# header texts
fig.text(0.4838, 0.968, 'Columbus Airport', ha='center', va='baseline', fontsize=24.9)
fig.text(0.0822, 0.9504, 'ICAO Code: KCSG', ha='left', va='baseline', fontsize=17.4)
fig.text(0.0822, 0.9216, 'Coordinates: 32.52, -84.93', ha='left', va='baseline', fontsize=17.4)
fig.text(0.0822, 0.8929, 'Georgia, USA', ha='left', va='baseline', fontsize=17.4)
fig.text(0.9175, 0.9237, 'Model: 18Z 20AUG2026 GEFS', ha='right', va='baseline', fontsize=17.4)
fig.text(0.9175, 0.895, 'weathertogether.net', ha='right', va='baseline', fontsize=19,
         fontweight='bold', color='#0aa0ff')

fig.text(0.028, 0.466, r'850 hPa Temperature (red, $^{\mathrm{o}}$C)', rotation=90,
         ha='center', va='center', fontsize=25)
fig.text(0.973, 0.466, '6-hour Precipitation (green, inches)', rotation=270,
         ha='center', va='center', fontsize=25)

fig.savefig('out.png', dpi=100)
